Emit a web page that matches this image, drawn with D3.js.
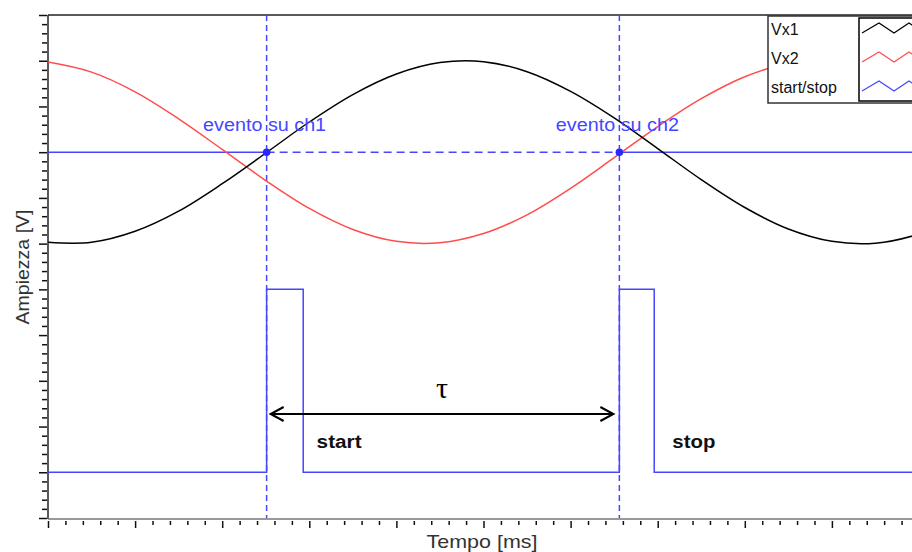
<!DOCTYPE html>
<html>
<head>
<meta charset="utf-8">
<script src="https://cdn.jsdelivr.net/npm/d3@7"></script>
<style>
  body { margin: 0; background: #fff; }
  svg { display: block; font-family: "Liberation Sans", Arial, sans-serif; }
</style>
</head>
<body>
<div id="chart"></div>
<script>
// tempo [ms] (unità di griglia) e ampiezze
const tempi = [0, 0.5, 1, 1.5, 2, 2.5, 3, 3.5, 4, 4.5, 5, 5.5, 6, 6.5, 7, 7.5, 8, 8.5, 9, 9.5, 10, 10.5];
const vx1 = [6.03, 6.03, 6.27, 6.71, 7.31, 7.98, 8.66, 9.26, 9.71, 9.96, 9.98, 9.76, 9.33, 8.75, 8.08, 7.40, 6.79, 6.32, 6.05, 6.01, 6.21, 6.61];
const vx2 = [9.97, 9.75, 9.32, 8.73, 8.06, 7.38, 6.77, 6.31, 6.05, 6.02, 6.22, 6.63, 7.21, 7.88, 8.56, 9.17, 9.65, 9.94, 9.99, 9.81, 9.42, 8.87];
// segnale start/stop (gradini)
const startStopT = [0, 2.51, 2.93, 6.56, 6.96, 10.5];
const startStopV = [1, 5, 1, 5, 1, 1];
const soglia = 8;
const eventi = [
  { t: 2.51, label: "evento su ch1" },
  { t: 6.56, label: "evento su ch2" }
];
const legenda = [
  { name: "Vx1", color: "#000000" },
  { name: "Vx2", color: "#ff4d4d" },
  { name: "start/stop", color: "#4646ff" }
];

const W = 912, H = 552;
const BLUE = "#4646ff";

const svg = d3.select("#chart").append("svg")
  .attr("width", W)
  .attr("height", H);

svg.append("rect").attr("width", W).attr("height", H).attr("fill", "#fff");

const x = d3.scaleLinear().domain([0, 10]).range([48, 919]);
const y = d3.scaleLinear().domain([0, 11]).range([518, 15]);

// cornice superiore
svg.append("line")
  .attr("x1", x(0)).attr("x2", W)
  .attr("y1", y(11)).attr("y2", y(11))
  .attr("stroke", "#222").attr("stroke-width", 1.5);

// asse Y: tacche minori e maggiori
const yMinor = d3.range(0, 55).map(i => i / 5).filter(v => v % 1 !== 0);
const yMajor = d3.range(0, 12);
svg.append("g")
  .attr("transform", `translate(${x(0) - 1},0)`)
  .call(d3.axisLeft(y).tickValues(yMinor).tickSize(5).tickFormat("").tickSizeOuter(0))
  .call(g => g.select(".domain").remove())
  .selectAll("line").attr("stroke", "#111").attr("stroke-width", 1.5);
svg.append("g")
  .attr("transform", `translate(${x(0) - 1},0)`)
  .call(d3.axisLeft(y).tickValues(yMajor).tickSize(8).tickFormat("").tickSizeOuter(0))
  .call(g => g.select(".domain").remove())
  .selectAll("line").attr("stroke", "#111").attr("stroke-width", 1.5);
svg.append("line")
  .attr("x1", x(0)).attr("x2", x(0))
  .attr("y1", y(11)).attr("y2", y(0) + 1)
  .attr("stroke", "#222").attr("stroke-width", 1.5);

// asse X
const xMinor = d3.range(0, 55).map(i => i / 5).filter(v => v % 1 !== 0);
const xMajor = d3.range(0, 11);
svg.append("g")
  .attr("transform", `translate(0,${y(0) + 3})`)
  .call(d3.axisBottom(x).tickValues(xMinor).tickSize(4).tickFormat("").tickSizeOuter(0))
  .call(g => g.select(".domain").remove())
  .selectAll("line").attr("stroke", "#111").attr("stroke-width", 1.5);
svg.append("g")
  .attr("transform", `translate(0,${y(0) + 3})`)
  .call(d3.axisBottom(x).tickValues(xMajor).tickSize(7).tickFormat("").tickSizeOuter(0))
  .call(g => g.select(".domain").remove())
  .selectAll("line").attr("stroke", "#111").attr("stroke-width", 1.5);
svg.append("line")
  .attr("x1", x(0)).attr("x2", W)
  .attr("y1", y(0) + 1).attr("y2", y(0) + 1)
  .attr("stroke", "#777").attr("stroke-width", 1.5);

// titoli assi
svg.append("text")
  .attr("x", 482)
  .attr("y", 548)
  .attr("text-anchor", "middle")
  .attr("font-size", 19)
  .attr("textLength", 111)
  .attr("lengthAdjust", "spacingAndGlyphs")
  .attr("fill", "#333")
  .text("Tempo [ms]");
svg.append("text")
  .attr("transform", "translate(29,267) rotate(-90)")
  .attr("text-anchor", "middle")
  .attr("font-size", 18)
  .attr("textLength", 115)
  .attr("lengthAdjust", "spacingAndGlyphs")
  .attr("fill", "#333")
  .text("Ampiezza [V]");

const plot = svg.append("g");
plot.append("clipPath").attr("id", "clip")
  .append("rect").attr("x", x(0)).attr("y", y(11)).attr("width", W).attr("height", y(0) - y(11));
const area = plot.append("g").attr("clip-path", "url(#clip)");

// soglia orizzontale: continua fuori, tratteggiata tra gli eventi
area.append("line")
  .attr("x1", x(0)).attr("x2", x(eventi[0].t))
  .attr("y1", y(soglia)).attr("y2", y(soglia))
  .attr("stroke", BLUE).attr("stroke-width", 1.5);
area.append("line")
  .attr("x1", x(eventi[0].t)).attr("x2", x(eventi[1].t))
  .attr("y1", y(soglia)).attr("y2", y(soglia))
  .attr("stroke", BLUE).attr("stroke-width", 1.5)
  .attr("stroke-dasharray", "8,5");
area.append("line")
  .attr("x1", x(eventi[1].t)).attr("x2", W)
  .attr("y1", y(soglia)).attr("y2", y(soglia))
  .attr("stroke", BLUE).attr("stroke-width", 1.5);

// linee verticali tratteggiate
area.selectAll(".vline")
  .data(eventi)
  .enter()
  .append("line")
  .attr("class", "vline")
  .attr("x1", d => x(d.t)).attr("x2", d => x(d.t))
  .attr("y1", y(11)).attr("y2", y(0))
  .attr("stroke", BLUE).attr("stroke-width", 1.5)
  .attr("stroke-dasharray", "6,4");

const line = d3.line()
  .x(d => x(d[0]))
  .y(d => y(d[1]))
  .curve(d3.curveCatmullRom);

area.append("path")
  .datum(tempi.map((t, i) => [t, vx2[i]]))
  .attr("fill", "none")
  .attr("stroke", legenda[1].color)
  .attr("stroke-width", 1.5)
  .attr("d", line);

area.append("path")
  .datum(tempi.map((t, i) => [t, vx1[i]]))
  .attr("fill", "none")
  .attr("stroke", legenda[0].color)
  .attr("stroke-width", 1.5)
  .attr("d", line);

const stepLine = d3.line()
  .x(d => x(d[0]))
  .y(d => y(d[1]))
  .curve(d3.curveStepAfter);

area.append("path")
  .datum(startStopT.map((t, i) => [t, startStopV[i]]))
  .attr("fill", "none")
  .attr("stroke", legenda[2].color)
  .attr("stroke-width", 1.5)
  .attr("d", stepLine);

// punti evento e etichette
area.selectAll(".dot")
  .data(eventi)
  .enter()
  .append("circle")
  .attr("cx", d => x(d.t))
  .attr("cy", y(soglia))
  .attr("r", 3.8)
  .attr("fill", "#2828ff");

area.selectAll(".evlabel")
  .data(eventi)
  .enter()
  .append("text")
  .attr("x", d => x(d.t) - 2)
  .attr("y", y(soglia) - 21)
  .attr("text-anchor", "middle")
  .attr("font-size", 18)
  .attr("textLength", 123)
  .attr("lengthAdjust", "spacingAndGlyphs")
  .attr("fill", BLUE)
  .text(d => d.label);

// freccia tau
const arrowY = 414;
const ax1 = x(eventi[0].t) + 4, ax2 = x(eventi[1].t) - 6;
area.append("line")
  .attr("x1", ax1).attr("x2", ax2)
  .attr("y1", arrowY).attr("y2", arrowY)
  .attr("stroke", "#000").attr("stroke-width", 2);
area.append("path")
  .attr("d", `M${ax1 + 13},${arrowY - 7} L${ax1},${arrowY} L${ax1 + 13},${arrowY + 7}`
    + ` M${ax2 - 13},${arrowY - 7} L${ax2},${arrowY} L${ax2 - 13},${arrowY + 7}`)
  .attr("fill", "none").attr("stroke", "#000").attr("stroke-width", 2);
area.append("text")
  .attr("x", (ax1 + ax2) / 2)
  .attr("y", 398)
  .attr("text-anchor", "middle")
  .attr("font-size", 30)
  .attr("font-family", "'Liberation Serif', 'DejaVu Serif', serif")
  .attr("fill", "#000")
  .text("τ");

area.append("text")
  .attr("x", x(eventi[0].t) + 50)
  .attr("y", 448)
  .attr("font-size", 18).attr("font-weight", "bold")
  .attr("textLength", 45)
  .attr("lengthAdjust", "spacingAndGlyphs")
  .attr("fill", "#111")
  .text("start");
area.append("text")
  .attr("x", x(eventi[1].t) + 53)
  .attr("y", 448)
  .attr("font-size", 18).attr("font-weight", "bold")
  .attr("textLength", 43)
  .attr("lengthAdjust", "spacingAndGlyphs")
  .attr("fill", "#111")
  .text("stop");

// legenda
const leg = svg.append("g").attr("transform", "translate(768,16)");
leg.append("rect")
  .attr("width", 200).attr("height", 87)
  .attr("fill", "#fff").attr("stroke", "#333").attr("stroke-width", 1.5);
leg.append("rect")
  .attr("x", 91).attr("y", 2)
  .attr("width", 100).attr("height", 83)
  .attr("fill", "#fff").attr("stroke", "#000").attr("stroke-width", 1.5);
const rows = leg.selectAll(".row")
  .data(legenda)
  .enter()
  .append("g")
  .attr("transform", (d, i) => `translate(0,${19 + i * 29})`);
rows.append("text")
  .attr("x", 3)
  .attr("y", 0)
  .attr("font-size", 16)
  .attr("fill", "#111")
  .text(d => d.name);
rows.append("path")
  .attr("d", "M94,-2 L111,-12 L126,-2 L141,-12 L156,-2 L171,-12")
  .attr("fill", "none")
  .attr("stroke", d => d.color)
  .attr("stroke-width", 1.2);
</script>
</body>
</html>
